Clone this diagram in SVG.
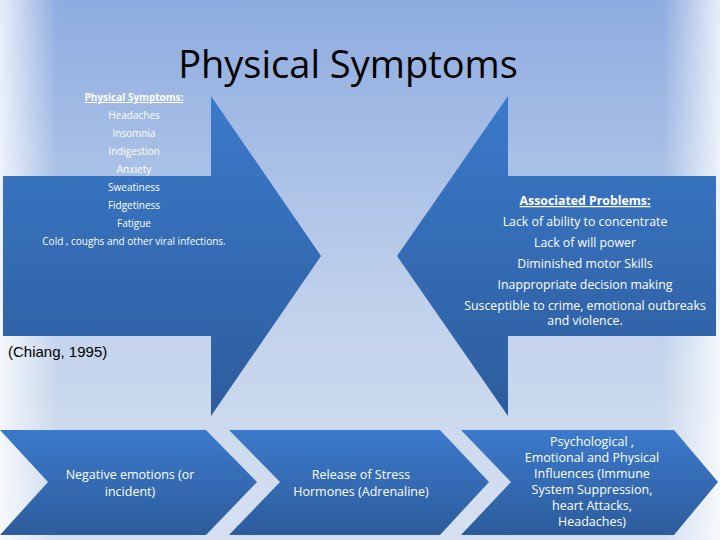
<svg xmlns="http://www.w3.org/2000/svg" width="720" height="540" viewBox="0 0 720 540">
<defs>
<linearGradient id="bg" x1="0" y1="0" x2="0" y2="1"><stop offset="0" stop-color="#8eace0"/><stop offset="0.6" stop-color="#c3d3ec"/><stop offset="1" stop-color="#d6e0f0"/></linearGradient>
<linearGradient id="vl" x1="0" y1="0" x2="1" y2="0"><stop offset="0" stop-color="#fff" stop-opacity="0.8"/><stop offset="0.08" stop-color="#fff" stop-opacity="0"/><stop offset="0.92" stop-color="#fff" stop-opacity="0"/><stop offset="1" stop-color="#fff" stop-opacity="0.8"/></linearGradient>
<linearGradient id="fb" x1="0" y1="0" x2="0" y2="1"><stop offset="0" stop-color="#3b7acb"/><stop offset="1" stop-color="#2d5c9c"/></linearGradient>
<style>
.s{fill:url(#fb)}
.w{fill:#fff;font-family:"Open Sans","Liberation Sans",sans-serif;text-anchor:middle}
.l{font-size:10px}
.r{font-size:12.3px}
.b{font-size:12.5px}
</style>
</defs>
<rect width="720" height="540" fill="url(#bg)"/>
<rect width="720" height="540" fill="url(#vl)"/>
<text x="348" y="78" font-family="'Open Sans','Liberation Sans',sans-serif" font-size="38" fill="#000" text-anchor="middle">Physical Symptoms</text>
<g id="left-arrow"><path class="s" d="M3 176H211V96L321 256L211 416V336H3Z"/>
<text class="w l" x="134" y="101" text-decoration="underline" font-weight="bold">Physical Symptoms:</text>
<text class="w l" x="134" y="119">Headaches</text>
<text class="w l" x="134" y="137">Insomnia</text>
<text class="w l" x="134" y="155">Indigestion</text>
<text class="w l" x="134" y="173">Anxiety</text>
<text class="w l" x="134" y="191">Sweatiness</text>
<text class="w l" x="134" y="209">Fidgetiness</text>
<text class="w l" x="134" y="227">Fatigue</text>
<text class="w l" x="134" y="245">Cold , coughs and other viral infections.</text>
</g>
<g id="right-arrow"><path class="s" d="M716 176H508V96L397 256L508 416V336H716Z"/>
<text class="w r" x="585" y="205" text-decoration="underline" font-weight="bold">Associated Problems:</text>
<text class="w r" x="585" y="226">Lack of ability to concentrate</text>
<text class="w r" x="585" y="247">Lack of will power</text>
<text class="w r" x="585" y="268">Diminished motor Skills</text>
<text class="w r" x="585" y="289">Inappropriate decision making</text>
<text class="w r" x="585" y="310">Susceptible to crime, emotional outbreaks</text>
<text class="w r" x="585" y="325">and violence.</text>
</g>
<text x="8" y="357" font-family="'Liberation Sans',sans-serif" font-size="15" fill="#000">(Chiang, 1995)</text>
<g id="step1"><path class="s" d="M0 430H206L257 482L206 535H0L48 482Z"/>
<text class="w b" x="130" y="479">Negative emotions (or</text><text class="w b" x="130" y="496">incident)</text></g>
<g id="step2"><path class="s" d="M229 430H440L489 482L440 535H229L280 482Z"/>
<text class="w b" x="361" y="479">Release of Stress</text><text class="w b" x="361" y="496">Hormones (Adrenaline)</text></g>
<g id="step3"><path class="s" d="M461 430H674L718 482L674 535H461L511 482Z"/>
<text class="w b" x="592" y="446">Psychological ,</text>
<text class="w b" x="592" y="462">Emotional and Physical</text>
<text class="w b" x="592" y="478">Influences (Immune</text>
<text class="w b" x="592" y="494">System Suppression,</text>
<text class="w b" x="592" y="510">heart Attacks,</text>
<text class="w b" x="592" y="526">Headaches)</text></g>
<g id="connectors"/>
</svg>
